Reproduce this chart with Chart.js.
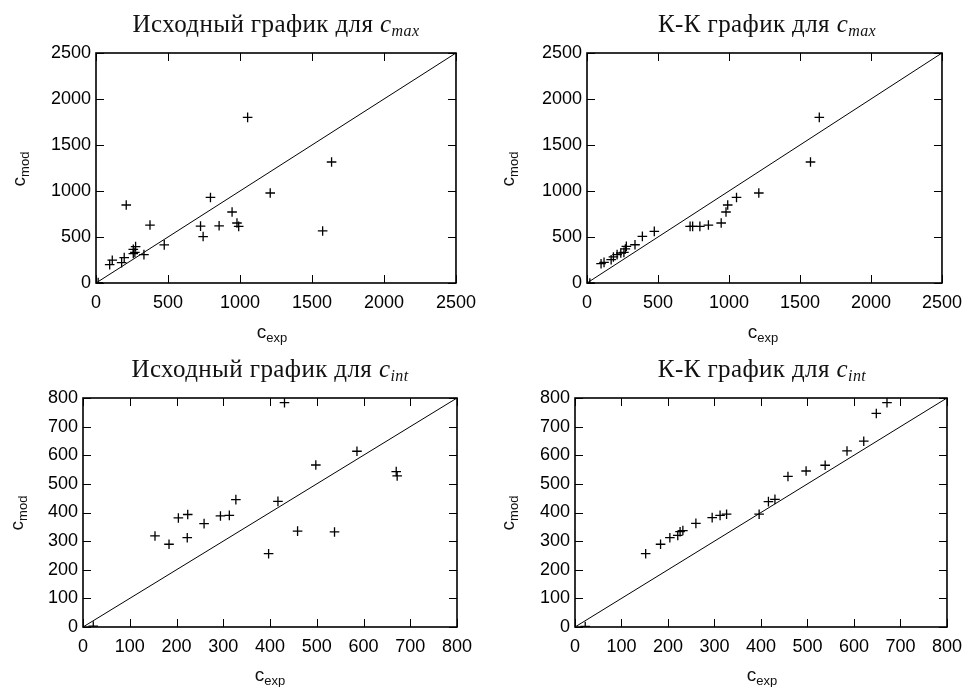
<!DOCTYPE html>
<html>
<head>
<meta charset="utf-8">
<script src="https://cdn.jsdelivr.net/npm/chart.js@4"></script>
<style>
  body { margin: 0; background: #fff; }
  #page { position: relative; width: 971px; height: 687px; overflow: hidden; }
  .panel { position: absolute; }
  .title { position: absolute; font-family: "Liberation Serif", serif; font-size: 25px; line-height: 28px; letter-spacing: 0.4px; color: #111; white-space: nowrap; transform: translateX(-50%); }
  .title i { font-size: 25px; }
  .title sub { font-size: 16px; vertical-align: -4px; }
  .lbl { position: absolute; font-family: "Liberation Sans", sans-serif; font-size: 19px; line-height: 20px; color: #111; white-space: nowrap; }
  .lbl sub { font-size: 13px; vertical-align: -4px; }
  .xl { transform: translateX(-50%); }
  .yl { transform: translate(-50%, -50%) rotate(-90deg); }
</style>
</head>
<body>
<div id="page">
  <div class="panel" style="left:0;top:0;width:485px;height:340px"><canvas id="c1"></canvas></div>
  <div class="panel" style="left:485px;top:0;width:486px;height:340px"><canvas id="c2"></canvas></div>
  <div class="panel" style="left:0;top:340px;width:485px;height:347px"><canvas id="c3"></canvas></div>
  <div class="panel" style="left:485px;top:340px;width:486px;height:347px"><canvas id="c4"></canvas></div>

  <div class="title" style="left:276px;top:10px">Исходный график для <i>c<sub>max</sub></i></div>
  <div class="title" style="left:767px;top:10px">К-К график для <i>c<sub>max</sub></i></div>
  <div class="title" style="left:270px;top:355px">Исходный график для <i>c<sub>int</sub></i></div>
  <div class="title" style="left:762px;top:355px">К-К график для <i>c<sub>int</sub></i></div>

  <div class="lbl xl" style="left:272px;top:322px">c<sub>exp</sub></div>
  <div class="lbl xl" style="left:763px;top:322px">c<sub>exp</sub></div>
  <div class="lbl xl" style="left:270px;top:665px">c<sub>exp</sub></div>
  <div class="lbl xl" style="left:762px;top:665px">c<sub>exp</sub></div>

  <div class="lbl yl" style="left:22px;top:169px">c<sub>mod</sub></div>
  <div class="lbl yl" style="left:511px;top:169px">c<sub>mod</sub></div>
  <div class="lbl yl" style="left:20px;top:513px">c<sub>mod</sub></div>
  <div class="lbl yl" style="left:511px;top:513px">c<sub>mod</sub></div>
</div>
<script>
// c_max, original plot
const origMaxExp = [15, 95, 113, 178, 196, 210, 259, 275, 259, 270, 333, 375, 474, 726, 744, 795, 855, 945, 979, 991, 1053, 1210, 1574, 1636];
const origMaxMod = [5, 200, 248, 222, 276, 848, 366, 395, 320, 333, 308, 630, 414, 618, 505, 930, 622, 772, 652, 616, 1800, 978, 566, 1315];
// c_max, K-K plot
const kkMaxExp = [20, 99, 120, 170, 186, 212, 238, 260, 270, 277, 338, 390, 474, 726, 744, 795, 855, 945, 979, 991, 1053, 1210, 1574, 1636];
const kkMaxMod = [0, 210, 224, 253, 283, 308, 326, 333, 370, 398, 416, 507, 561, 616, 616, 616, 630, 652, 772, 848, 930, 978, 1315, 1800];
// c_int, original plot
const origIntExp = [22, 154, 184, 204, 224, 223, 259, 294, 313, 327, 397, 417, 431, 459, 498, 538, 586, 670, 672];
const origIntMod = [3, 318, 289, 381, 393, 312, 361, 388, 390, 445, 256, 439, 784, 335, 566, 332, 614, 543, 528];
// c_int, K-K plot
const kkIntExp = [22, 152, 184, 204, 221, 226, 232, 260, 295, 312, 326, 396, 416, 430, 458, 497, 538, 585, 621, 648, 671];
const kkIntMod = [2, 256, 289, 312, 320, 333, 337, 362, 382, 390, 394, 394, 438, 446, 526, 545, 565, 615, 649, 746, 784];

const maxRange = [0, 2500];
const intRange = [0, 800];

// gnuplot-like frame: box + inward ticks on all four sides
const framePlugin = {
  id: "frame",
  afterDraw(chart) {
    const { ctx, chartArea: a, scales } = chart;
    ctx.save();
    ctx.strokeStyle = "#000";
    ctx.lineWidth = 1;
    scales.x.ticks.forEach(t => {
      const px = Math.round(scales.x.getPixelForValue(t.value)) + 0.5;
      ctx.beginPath();
      ctx.moveTo(px, a.bottom); ctx.lineTo(px, a.bottom - 8);
      ctx.moveTo(px, a.top); ctx.lineTo(px, a.top + 8);
      ctx.stroke();
    });
    scales.y.ticks.forEach(t => {
      const py = Math.round(scales.y.getPixelForValue(t.value)) + 0.5;
      ctx.beginPath();
      ctx.moveTo(a.left, py); ctx.lineTo(a.left + 8, py);
      ctx.moveTo(a.right, py); ctx.lineTo(a.right - 8, py);
      ctx.stroke();
    });
    ctx.lineWidth = 1.6;
    ctx.strokeRect(a.left, a.top, a.right - a.left, a.bottom - a.top);
    ctx.restore();
  }
};

function makeChart(id, xs, ys, range, step, area) {
  const pts = xs.map((x, i) => ({ x: x, y: ys[i] }));
  const el = document.getElementById(id);
  const w = el.parentNode.clientWidth, h = el.parentNode.clientHeight;
  const tickFont = { family: "Liberation Sans", size: 18 };
  return new Chart(el, {
    type: "scatter",
    data: {
      datasets: [
        {
          data: [{ x: range[0], y: range[0] }, { x: range[1], y: range[1] }],
          showLine: true, borderColor: "#000", borderWidth: 1, pointRadius: 0
        },
        {
          data: pts, pointStyle: "cross", pointRadius: 4.8, pointBorderWidth: 1.3,
          borderColor: "#000", backgroundColor: "#000"
        }
      ]
    },
    options: {
      responsive: true, maintainAspectRatio: false, animation: false,
      layout: { padding: { top: area.top, right: w - area.right, left: 0, bottom: 0 } },
      plugins: { legend: { display: false }, tooltip: { enabled: false } },
      scales: {
        x: {
          type: "linear", min: range[0], max: range[1],
          grid: { display: false, drawTicks: false }, border: { display: false },
          ticks: { stepSize: step, color: "#000", font: tickFont, padding: 9, maxRotation: 0, callback: v => String(v) },
          afterFit: s => { s.height = h - area.bottom; }
        },
        y: {
          type: "linear", min: range[0], max: range[1],
          grid: { display: false, drawTicks: false }, border: { display: false },
          ticks: { stepSize: step, color: "#000", font: tickFont, padding: 5, callback: v => String(v) },
          afterFit: s => { s.width = area.left; }
        }
      }
    },
    plugins: [framePlugin]
  });
}

makeChart("c1", origMaxExp, origMaxMod, maxRange, 500, { left: 96, top: 53, right: 457, bottom: 283 });
makeChart("c2", kkMaxExp, kkMaxMod, maxRange, 500, { left: 102, top: 53, right: 463, bottom: 283 });
makeChart("c3", origIntExp, origIntMod, intRange, 100, { left: 83, top: 58, right: 457, bottom: 287 });
makeChart("c4", kkIntExp, kkIntMod, intRange, 100, { left: 90, top: 58, right: 463, bottom: 287 });
</script>
</body>
</html>
